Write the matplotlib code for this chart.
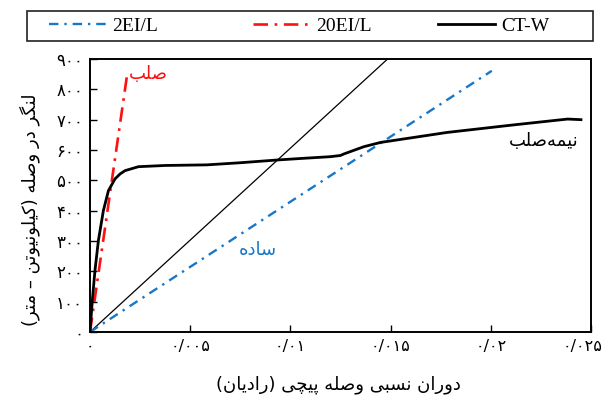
import matplotlib
matplotlib.use("Agg")
import matplotlib.pyplot as plt
import matplotlib.transforms as mtransforms
from matplotlib.lines import Line2D
from matplotlib.patches import Rectangle

# presentation forms: isolated, final, initial, medial
FORMS = {
    "ا": ("\uFE8D", "\uFE8E", None, None),
    "ب": ("\uFE8F", "\uFE90", "\uFE91", "\uFE92"),
    "پ": ("\uFB56", "\uFB57", "\uFB58", "\uFB59"),
    "ت": ("\uFE95", "\uFE96", "\uFE97", "\uFE98"),
    "چ": ("\uFB7A", "\uFB7B", "\uFB7C", "\uFB7D"),
    "د": ("\uFEA9", "\uFEAA", None, None),
    "ر": ("\uFEAD", "\uFEAE", None, None),
    "س": ("\uFEB1", "\uFEB2", "\uFEB3", "\uFEB4"),
    "ص": ("\uFEB9", "\uFEBA", "\uFEBB", "\uFEBC"),
    "ک": ("\uFB8E", "\uFB8F", "\uFB90", "\uFB91"),
    "گ": ("\uFB92", "\uFB93", "\uFB94", "\uFB95"),
    "ل": ("\uFEDD", "\uFEDE", "\uFEDF", "\uFEE0"),
    "م": ("\uFEE1", "\uFEE2", "\uFEE3", "\uFEE4"),
    "ن": ("\uFEE5", "\uFEE6", "\uFEE7", "\uFEE8"),
    "ه": ("\uFEE9", "\uFEEA", "\uFEEB", "\uFEEC"),
    "و": ("\uFEED", "\uFEEE", None, None),
    "ی": ("\uFBFC", "\uFBFD", "\uFBFE", "\uFBFF"),
}


def fa(s):
    out = []
    for i, ch in enumerate(s):
        if ch == "\u200c":
            continue
        if ch not in FORMS:
            out.append(ch)
            continue
        prev = s[i - 1] if i > 0 else ""
        nxt = s[i + 1] if i + 1 < len(s) else ""
        jp = prev in FORMS and FORMS[prev][2] is not None
        jn = nxt in FORMS and FORMS[ch][2] is not None
        iso, fin, ini, med = FORMS[ch]
        if jp and jn:
            out.append(med)
        elif jp:
            out.append(fin)
        elif jn:
            out.append(ini)
        else:
            out.append(iso)
    mirror = {"(": ")", ")": "("}
    return "".join(mirror.get(c, c) for c in reversed(out))


DIGITS = str.maketrans("0123456789.", "۰۱۲۳۴۵۶۷۸۹/")

# data
ct_x = [0, 0.000117, 0.00025, 0.00042, 0.00067, 0.00092, 0.00125, 0.0015, 0.00175,
        0.00242, 0.00375, 0.00583, 0.0075, 0.00933, 0.0105, 0.012, 0.0125, 0.01267,
        0.01367, 0.0145, 0.01783, 0.02117, 0.02383, 0.0245]
ct_y = [0, 105, 204, 302, 401, 466, 505, 521, 532, 545, 549, 551, 558, 567, 572, 578,
        582, 587, 611, 625, 658, 683, 702, 700]
simple_x = [0, 0.02005]
simple_y = [0, 861]
rigid_x = [0, 0.00188]
rigid_y = [0, 861]
bound_x = [0, 0.01485]
bound_y = [0, 900]

x_ticks = [0, 0.005, 0.01, 0.015, 0.02, 0.025]
x_ticklabels = ["0", "0.005", "0.01", "0.015", "0.02", "0.025"]
y_ticks = [0, 100, 200, 300, 400, 500, 600, 700, 800, 900]

BLUE = "#1777c8"
RED = "#ff1010"
FA_FONT = "DejaVu Sans"
BLUE_LS = (0, (4, 2.5, 1, 2.5))
RED_LS = (0, (5.5, 2.5, 1, 2.5))

fig = plt.figure(figsize=(6.05, 4.01), dpi=100)
ax = fig.add_axes([90 / 605, 69 / 401, 501 / 605, 273 / 401])

ax.plot(bound_x, bound_y, color="black", lw=0.9)
ax.plot(simple_x, simple_y, color=BLUE, lw=1.7, ls=BLUE_LS)
ax.plot(rigid_x, rigid_y, color=RED, lw=1.9, ls=RED_LS)
ax.plot(ct_x, ct_y, color="black", lw=2.0)

ax.set_xlim(0, 0.025)
ax.set_ylim(0, 900)
ax.set_xticks(x_ticks)
ax.set_xticklabels([t.translate(DIGITS) for t in x_ticklabels], family=FA_FONT, fontsize=11.5)
ax.set_yticks(y_ticks)
ax.set_yticklabels([str(t).translate(DIGITS) for t in y_ticks], family=FA_FONT, fontsize=12)
ax.tick_params(direction="in", length=5, width=1, pad=5)
for sp in ax.spines.values():
    sp.set_linewidth(1.4)

# last x label sits against the figure edge; nudge it in a little
last = ax.get_xticklabels()[-1]
last.set_transform(last.get_transform() + mtransforms.ScaledTranslation(-8 / 100, 0, fig.dpi_scale_trans))

ax.text(0.0029, 851, fa("صلب"), color=RED, fontsize=13, family=FA_FONT, ha="center", va="center")
ax.text(0.00835, 269, fa("ساده"), color=BLUE, fontsize=13, family=FA_FONT, ha="center", va="center")
ax.text(0.02265, 631, fa("نیمه\u200cصلب"), color="black", fontsize=13, family=FA_FONT, ha="center", va="center")

fig.text(338 / 605, 1 - 385 / 401, fa("دوران نسبی وصله پیچی (رادیان)"),
         family=FA_FONT, fontsize=13, ha="center", va="center")
fig.text(30 / 605, 1 - 210 / 401, fa("لنگر در وصله (کیلونیوتن – متر)"),
         family=FA_FONT, fontsize=13, ha="center", va="center", rotation=90)

# legend: one entry per box position, shared frame
entries = [
    (49, Line2D([], [], color=BLUE, lw=1.7, ls=BLUE_LS), "2EI/L"),
    (253, Line2D([], [], color=RED, lw=1.9, ls=RED_LS), "20EI/L"),
    (438, Line2D([], [], color="black", lw=2.0), "CT-W"),
]
for xs, h, lab in entries:
    fig.legend([h], [lab], loc="center left", bbox_to_anchor=(xs / 605, 1 - 26 / 401),
               frameon=False, borderpad=0, borderaxespad=0, handlelength=2.95,
               handletextpad=0.3, prop={"family": "Liberation Serif", "size": 14})
fig.patches.append(Rectangle((27 / 605, 1 - 41 / 401), 566 / 605, 30 / 401,
                             transform=fig.transFigure, fill=False, edgecolor="#222222", lw=1.2))

fig.savefig("out.png", dpi=100)
